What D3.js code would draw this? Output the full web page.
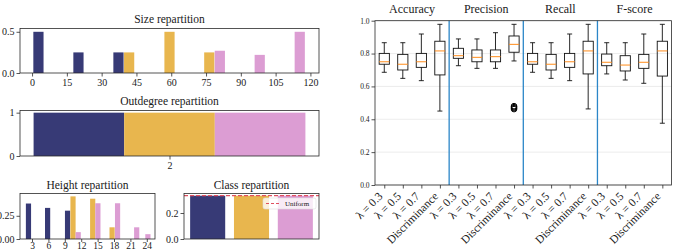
<!DOCTYPE html>
<html><head><meta charset="utf-8">
<script src="https://cdn.jsdelivr.net/npm/d3@7"></script>
<style>
body{margin:0;background:#fff}
svg{display:block}
text{font-family:"Liberation Serif",serif;fill:#1a1a1a}
</style>
</head><body>
<svg id="c" width="674" height="252"></svg>
<script>
// ---------------- DATA ----------------
const seriesColors = ["#373a76", "#e8b64e", "#dc9dd3"];

// Size repartition (bar centres, heights)
const sizeTicks = [0, 15, 30, 45, 60, 75, 90, 105, 120];
const sizeBinWidth = 4.4;
const sizeCenters = [[2.75, 20.0, 37.25], [41.85, 59.25, 76.4], [80.95, 98.15, 115.4]];
const sizeValues  = [[0.5, 0.25, 0.25], [0.25, 0.5, 0.25], [0.27, 0.22, 0.5]];

// Outdegree repartition
const outdegreeTicks = [2];
const outdegreeValues = [1, 1, 1];

// Height repartition
const heightTicks = [3, 6, 9, 12, 15, 18, 21, 24];
const heightBinWidth = 0.95;
const heightCenters = [[2.35, 5.85, 9.5], [10.5, 14.1, 17.65], [11.45, 15.05, 18.65, 22.15, 24.2]];
const heightValues  = [[0.382, 0.335, 0.305], [0.459, 0.434, 0.126], [0.074, 0.385, 0.385, 0.126, 0.052]];

// Class repartition
const classValues = [0.333, 0.333, 0.333];
const uniformValue = 1 / 3;

// Box plots
const metricNames = ["Accuracy", "Precision", "Recall", "F-score"];
const methodLabels = ["λ = 0.3", "λ = 0.5", "λ = 0.7", "Discriminance"];
// [whiskerLow, q1, median, q3, whiskerHigh]
const boxStats = [
  [0.686, 0.735, 0.750, 0.801, 0.866],
  [0.649, 0.700, 0.735, 0.795, 0.866],
  [0.635, 0.716, 0.750, 0.801, 0.919],
  [0.450, 0.670, 0.816, 0.875, 0.978],
  [0.726, 0.771, 0.787, 0.832, 0.889],
  [0.710, 0.750, 0.777, 0.822, 0.889],
  [0.710, 0.750, 0.781, 0.822, 0.927],
  [0.755, 0.808, 0.856, 0.907, 0.978],
  [0.686, 0.735, 0.750, 0.801, 0.866],
  [0.649, 0.700, 0.735, 0.795, 0.866],
  [0.635, 0.716, 0.750, 0.801, 0.919],
  [0.463, 0.676, 0.816, 0.875, 0.978],
  [0.676, 0.726, 0.747, 0.797, 0.866],
  [0.639, 0.694, 0.730, 0.787, 0.866],
  [0.619, 0.710, 0.747, 0.795, 0.919],
  [0.376, 0.663, 0.816, 0.875, 0.978]
];
const outlierBox = 8;
const outlierValues = [0.462, 0.468, 0.474, 0.480];
const boxYTicks = [0, 0.2, 0.4, 0.6, 0.8, 1.0];

// ---------------- DRAWING ----------------
const svg = d3.select("#c");
const frameColor = "#2a2a2a";
const tickFont = 10;

function styleAxis(g, fs) {
  g.select(".domain").remove();
  g.selectAll(".tick line").attr("stroke", frameColor).attr("stroke-width", 0.8);
  g.selectAll(".tick text").style("font-size", fs + "px").attr("fill", "#1a1a1a");
}
function frame(l, r, t, b) {
  svg.append("rect").attr("x", l).attr("y", t).attr("width", r - l).attr("height", b - t)
    .attr("fill", "none").attr("stroke", frameColor).attr("stroke-width", 0.8);
}
function title(txt, l, r, y, fs) {
  svg.append("text").attr("x", (l + r) / 2).attr("y", y).attr("text-anchor", "middle")
    .style("font-size", fs + "px").text(txt);
}
function drawBars(x, y, centers, values, w, color) {
  svg.append("g").selectAll("rect").data(centers).join("rect")
    .attr("x", (d) => x(d - w / 2))
    .attr("width", (d) => x(d + w / 2) - x(d - w / 2))
    .attr("y", (d, i) => y(values[i]))
    .attr("height", (d, i) => y(0) - y(values[i]))
    .attr("fill", color);
}

// --- Size repartition ---
{
  const L = 20, R = 319, T = 28.5, B = 73;
  const x = d3.scaleLinear().domain([-5.2, 123.7]).range([L, R]);
  const y = d3.scaleLinear().domain([0, 0.54]).range([B, T]);
  sizeCenters.forEach((c, k) => drawBars(x, y, c, sizeValues[k], sizeBinWidth, seriesColors[k]));
  const gx = svg.append("g").attr("transform", `translate(0,${B})`)
    .call(d3.axisBottom(x).tickValues(sizeTicks).tickSize(3.5).tickPadding(2));
  styleAxis(gx, tickFont);
  const gy = svg.append("g").attr("transform", `translate(${L},0)`)
    .call(d3.axisLeft(y).tickValues([0, 0.5]).tickFormat(d3.format(".1f")).tickSize(3.5).tickPadding(2));
  styleAxis(gy, tickFont);
  frame(L, R, T, B);
  title("Size repartition", L, R, 22.5, 11.5);
}

// --- Outdegree repartition ---
{
  const L = 20, R = 319, T = 110.5, B = 156;
  const x = d3.scaleLinear().domain([1.45, 2.55]).range([L, R]);
  const y = d3.scaleLinear().domain([0, 1.05]).range([B, T]);
  const w = 1 / outdegreeValues.length;
  const centers = outdegreeValues.map((v, i) => 1.5 + w * (i + 0.5));
  outdegreeValues.forEach((v, i) => drawBars(x, y, [centers[i]], [v], w, seriesColors[i]));
  const gx = svg.append("g").attr("transform", `translate(0,${B})`)
    .call(d3.axisBottom(x).tickValues(outdegreeTicks).tickFormat(d3.format("d")).tickSize(3.5).tickPadding(2));
  styleAxis(gx, tickFont);
  const gy = svg.append("g").attr("transform", `translate(${L},0)`)
    .call(d3.axisLeft(y).tickValues([0, 1]).tickFormat(d3.format("d")).tickSize(3.5).tickPadding(2));
  styleAxis(gy, tickFont);
  frame(L, R, T, B);
  title("Outdegree repartition", L, R, 105, 11.5);
}

// --- Height repartition ---
{
  const L = 20, R = 155, T = 193.5, B = 239;
  const x = d3.scaleLinear().domain([0.8, 25.5]).range([L, R]);
  const y = d3.scaleLinear().domain([0, 0.49]).range([B, T]);
  heightCenters.forEach((c, k) => drawBars(x, y, c, heightValues[k], heightBinWidth, seriesColors[k]));
  const gx = svg.append("g").attr("transform", `translate(0,${B})`)
    .call(d3.axisBottom(x).tickValues(heightTicks).tickSize(3).tickPadding(0.5));
  styleAxis(gx, 9.5);
  const gy = svg.append("g").attr("transform", `translate(${L},0)`)
    .call(d3.axisLeft(y).tickValues([0, 0.25]).tickFormat(d3.format(".2f")).tickSize(3.5).tickPadding(2));
  styleAxis(gy, tickFont);
  frame(L, R, T, B);
  title("Height repartition", L, R, 189, 11.5);
}

// --- Class repartition ---
{
  const L = 184, R = 319, T = 193.5, B = 239;
  const x = d3.scaleLinear().domain([-0.54, 2.54]).range([L, R]);
  const y = d3.scaleLinear().domain([0, 0.35]).range([B, T]);
  classValues.forEach((v, i) => drawBars(x, y, [i], [v], 0.8, seriesColors[i]));
  svg.append("line").attr("x1", L).attr("x2", R).attr("y1", y(uniformValue)).attr("y2", y(uniformValue))
    .attr("stroke", "#e0505f").attr("stroke-width", 1.2).attr("stroke-dasharray", "4,2");
  const gy = svg.append("g").attr("transform", `translate(${L},0)`)
    .call(d3.axisLeft(y).tickValues([0, 0.2]).tickFormat(d3.format(".1f")).tickSize(3.5).tickPadding(2));
  styleAxis(gy, tickFont);
  frame(L, R, T, B);
  title("Class repartition", L, R, 189, 11.5);
  // legend
  const lg = svg.append("g");
  lg.append("rect").attr("x", R - 56).attr("y", T + 4.5).attr("width", 53).attr("height", 11).attr("rx", 2)
    .attr("fill", "#fff").attr("fill-opacity", 0.8).attr("stroke", "#ddd").attr("stroke-width", 0.6);
  lg.append("line").attr("x1", R - 53).attr("x2", R - 38).attr("y1", T + 10).attr("y2", T + 10)
    .attr("stroke", "#e0505f").attr("stroke-width", 1).attr("stroke-dasharray", "3,2");
  lg.append("text").attr("x", R - 34).attr("y", T + 12.5).style("font-size", "7px").text("Uniform");
}

// --- Box plots ---
{
  const L = 375, R = 671.6, T = 20.7, B = 185;
  const x = d3.scaleLinear().domain([0.5, boxStats.length + 0.5]).range([L, R]);
  const y = d3.scaleLinear().domain([0, 1]).range([B, T]);
  // grid
  svg.append("g").selectAll("line").data(boxYTicks).join("line")
    .attr("x1", L).attr("x2", R).attr("y1", (d) => y(d)).attr("y2", (d) => y(d))
    .attr("stroke", "#e4e4e4").attr("stroke-width", 0.7);
  // separators
  const seps = d3.range(1, metricNames.length).map((i) => i * methodLabels.length + 0.5);
  svg.append("g").selectAll("line").data(seps).join("line")
    .attr("x1", (d) => x(d)).attr("x2", (d) => x(d)).attr("y1", T).attr("y2", B)
    .attr("stroke", "#2b86c8").attr("stroke-width", 1.3);
  const bw = 0.55, cw = 0.27;
  const g = svg.append("g");
  boxStats.forEach((s, i) => {
    const p = i + 1;
    const gg = g.append("g").attr("stroke", "#111").attr("stroke-width", 0.9).attr("fill", "none");
    gg.append("line").attr("x1", x(p)).attr("x2", x(p)).attr("y1", y(s[0])).attr("y2", y(s[1]));
    gg.append("line").attr("x1", x(p)).attr("x2", x(p)).attr("y1", y(s[3])).attr("y2", y(s[4]));
    gg.append("line").attr("x1", x(p - cw / 2)).attr("x2", x(p + cw / 2)).attr("y1", y(s[0])).attr("y2", y(s[0]));
    gg.append("line").attr("x1", x(p - cw / 2)).attr("x2", x(p + cw / 2)).attr("y1", y(s[4])).attr("y2", y(s[4]));
    gg.append("rect").attr("x", x(p - bw / 2)).attr("width", x(p + bw / 2) - x(p - bw / 2))
      .attr("y", y(s[3])).attr("height", y(s[1]) - y(s[3]));
    g.append("line").attr("x1", x(p - bw / 2)).attr("x2", x(p + bw / 2)).attr("y1", y(s[2])).attr("y2", y(s[2]))
      .attr("stroke", "#ff8c1a").attr("stroke-width", 1);
  });
  g.append("g").selectAll("circle").data(outlierValues).join("circle")
    .attr("cx", x(outlierBox)).attr("cy", (d) => y(d)).attr("r", 2.8)
    .attr("fill", "none").attr("stroke", "#000").attr("stroke-width", 1);
  // axes
  const gy = svg.append("g").attr("transform", `translate(${L},0)`)
    .call(d3.axisLeft(y).tickValues(boxYTicks).tickFormat(d3.format(".1f")).tickSize(3.5).tickPadding(2));
  styleAxis(gy, 7.5);
  const gx = svg.append("g").attr("transform", `translate(0,${B})`)
    .call(d3.axisBottom(x).tickValues(d3.range(1, boxStats.length + 1)).tickSize(3.5).tickFormat(""));
  styleAxis(gx, 11);
  svg.append("g").selectAll("text").data(d3.range(1, boxStats.length + 1)).join("text")
    .attr("transform", (d) => `translate(${x(d) - 1},${B + 12}) rotate(-45)`)
    .attr("text-anchor", "end").style("font-size", "11.5px")
    .text((d) => methodLabels[(d - 1) % methodLabels.length]);
  frame(L, R, T, B);
  metricNames.forEach((m, i) => {
    const c = i * methodLabels.length + (methodLabels.length + 1) / 2;
    svg.append("text").attr("x", x(c)).attr("y", 13).attr("text-anchor", "middle")
      .style("font-size", "12px").text(m);
  });
}
</script>
</body></html>
